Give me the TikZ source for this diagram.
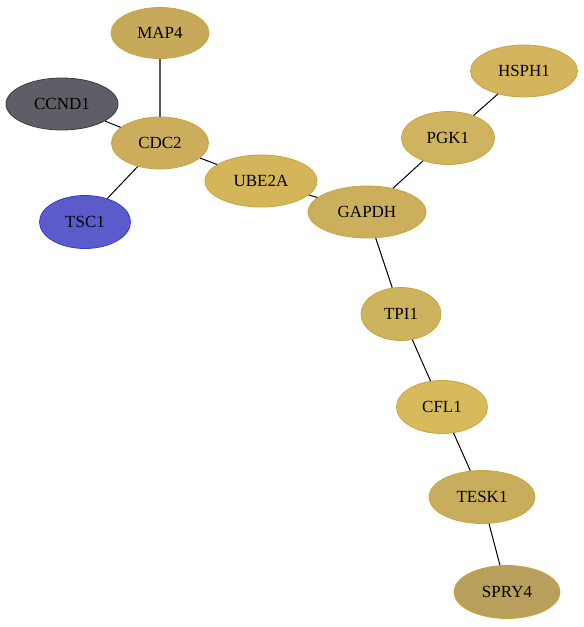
\documentclass[tikz,border=0pt]{standalone}
\usepackage{fontspec}
\setmainfont{Liberation Serif}
\usetikzlibrary{shapes.geometric}
\begin{document}
\begin{tikzpicture}[x=1pt,y=-1pt,
  edge/.style={line width=1pt, black}]
\useasboundingbox (0,0) rectangle (584,627);
\definecolor{cMAP}{HTML}{C6AA5A}
\definecolor{cCCND}{HTML}{5E5E67}
\definecolor{cCDC}{HTML}{CBAD5B}
\definecolor{cTSC}{HTML}{5B5BCC}
\definecolor{cUBE}{HTML}{D4B55A}
\definecolor{cGAP}{HTML}{CCAF5C}
\definecolor{cPGK}{HTML}{CFB35E}
\definecolor{cHSP}{HTML}{D4B55E}
\definecolor{cTPI}{HTML}{CEB35E}
\definecolor{cCFL}{HTML}{D6BA5B}
\definecolor{cTES}{HTML}{C8AE5C}
\definecolor{cSPR}{HTML}{B8A05C}
\definecolor{bGold}{HTML}{C9A43E}
\definecolor{bBlue}{HTML}{3A3AC8}
\definecolor{bDark}{HTML}{3A3A40}
\tikzset{
  genenode/.style={ellipse, line width=0.8pt, inner sep=0pt, font=\fontsize{17}{17}\selectfont},
  goldnode/.style={genenode, draw=bGold}}
\node[goldnode, fill=cMAP, minimum width=98, minimum height=51] (MAP4) at (160,33) {MAP4};
\node[genenode, draw=bDark, fill=cCCND, minimum width=112, minimum height=52] (CCND1) at (62,104) {CCND1};
\node[goldnode, fill=cCDC, minimum width=97, minimum height=52] (CDC2) at (160,143) {CDC2};
\node[genenode, draw=bBlue, fill=cTSC, minimum width=91, minimum height=53] (TSC1) at (85,222) {TSC1};
\node[goldnode, fill=cUBE, minimum width=112, minimum height=52] (UBE2A) at (261,181) {UBE2A};
\node[goldnode, fill=cGAP, minimum width=118, minimum height=52] (GAPDH) at (367,212) {GAPDH};
\node[goldnode, fill=cPGK, minimum width=93, minimum height=53] (PGK1) at (448,138) {PGK1};
\node[goldnode, fill=cHSP, minimum width=107, minimum height=52] (HSPH1) at (524,71) {HSPH1};
\node[goldnode, fill=cTPI, minimum width=80, minimum height=53] (TPI1) at (401,314) {TPI1};
\node[goldnode, fill=cCFL, minimum width=91, minimum height=53] (CFL1) at (442,407) {CFL1};
\node[goldnode, fill=cTES, minimum width=106, minimum height=53] (TESK1) at (482,497) {TESK1};
\node[goldnode, fill=cSPR, minimum width=106, minimum height=53] (SPRY4) at (507,592) {SPRY4};
\draw[line width=1.1pt, black!65] (MAP4) -- (CDC2);
\draw[edge] (CCND1) -- (CDC2);
\draw[edge] (CDC2) -- (TSC1);
\draw[edge] (CDC2) -- (UBE2A);
\draw[edge] (UBE2A) -- (GAPDH);
\draw[edge] (GAPDH) -- (PGK1);
\draw[edge] (PGK1) -- (HSPH1);
\draw[edge] (GAPDH) -- (TPI1);
\draw[edge] (TPI1) -- (CFL1);
\draw[edge] (CFL1) -- (TESK1);
\draw[edge] (TESK1) -- (SPRY4);
\end{tikzpicture}
\end{document}
